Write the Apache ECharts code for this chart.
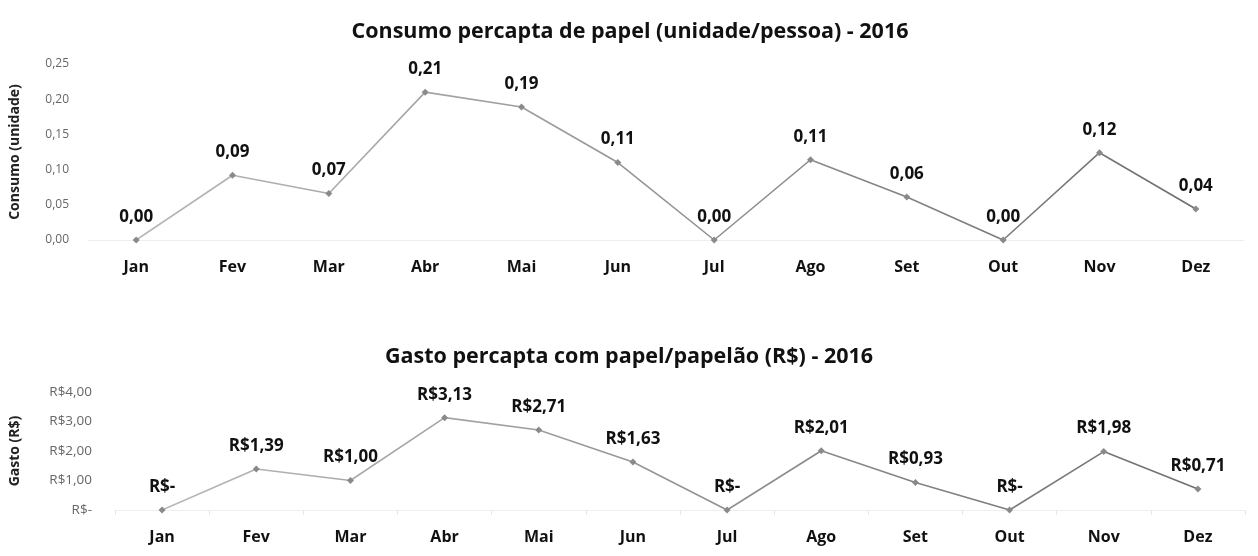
<!DOCTYPE html>
<html>
<head>
<meta charset="utf-8">
<script src="https://cdn.jsdelivr.net/npm/echarts@6/dist/echarts.min.js"></script>
<style>
  html, body { margin: 0; padding: 0; background: #fff; }
  #chart { width: 1258px; height: 556px; }
</style>
</head>
<body>
<div id="chart"></div>
<script>
var meses = ["Jan", "Fev", "Mar", "Abr", "Mai", "Jun", "Jul", "Ago", "Set", "Out", "Nov", "Dez"];
var consumo = [0, 0.092, 0.066, 0.21, 0.189, 0.11, 0, 0.114, 0.061, 0, 0.124, 0.044];
var gasto = [0, 1.39, 1.0, 3.13, 2.71, 1.63, 0, 2.01, 0.93, 0, 1.98, 0.71];

var fonte = "'Open Sans', sans-serif";

function virgula(v) {
  return v.toFixed(2).replace(".", ",");
}
function reais(v) {
  if (v === 0) return "R$-";
  return "R$" + virgula(v);
}

// cinza que escurece da esquerda pra direita (como no scan)
var corLinha = new echarts.graphic.LinearGradient(0, 0, 1, 0, [
  { offset: 0, color: "#b8b8b8" },
  { offset: 1, color: "#6f6f6f" }
]);

function eixoX(idx) {
  return {
    type: "category",
    gridIndex: idx,
    data: meses,
    axisLine: { show: true, lineStyle: { color: "#eeeeee" } },
    axisTick: { show: idx === 1, lineStyle: { color: "#e6e6e6" } },
    axisLabel: { margin: 19, color: "#111", fontSize: 16, fontWeight: "bold", fontFamily: fonte }
  };
}

var chart = echarts.init(document.getElementById("chart"), null, { renderer: "canvas" });
chart.setOption({
  animation: false,
  backgroundColor: "#fff",
  title: [
    {
      text: "Consumo percapta de papel (unidade/pessoa) - 2016",
      left: 625, top: 16, textAlign: "center",
      textStyle: { fontSize: 21.5, fontWeight: "bold", color: "#111", fontFamily: fonte }
    },
    {
      text: "Gasto percapta com papel/papelão (R$) - 2016",
      left: 624, top: 341, textAlign: "center",
      textStyle: { fontSize: 21.5, fontWeight: "bold", color: "#111", fontFamily: fonte }
    }
  ],
  grid: [
    { left: 84, right: 14, top: 64, height: 176 },
    { left: 113, right: 13, top: 392, height: 118 }
  ],
  xAxis: [eixoX(0), eixoX(1)],
  yAxis: [
    {
      type: "value", gridIndex: 0, min: 0, max: 0.25, interval: 0.05,
      name: "Consumo (unidade)", nameLocation: "middle", nameGap: 66,
      nameTextStyle: { fontSize: 14, fontWeight: "bold", color: "#222", fontFamily: fonte },
      axisLine: { show: false }, axisTick: { show: false },
      splitLine: { show: false },
      axisLabel: { margin: 19, color: "#666", fontSize: 12, fontFamily: fonte, formatter: virgula }
    },
    {
      type: "value", gridIndex: 1, min: 0, max: 4, interval: 1,
      name: "Gasto (R$)", nameLocation: "middle", nameGap: 93,
      nameTextStyle: { fontSize: 14, fontWeight: "bold", color: "#222", fontFamily: fonte },
      axisLine: { show: false }, axisTick: { show: false },
      splitLine: { show: false },
      axisLabel: { margin: 23, color: "#666", fontSize: 13.5, fontFamily: fonte, formatter: reais }
    }
  ],
  series: [
    {
      type: "line", xAxisIndex: 0, yAxisIndex: 0, data: consumo,
      symbol: "diamond", symbolSize: 7,
      lineStyle: { color: corLinha, width: 1.6 },
      itemStyle: { color: "#8a8a8a" },
      label: {
        show: true, position: "top", distance: 11,
        fontSize: 17, fontWeight: "bold", color: "#111", fontFamily: fonte,
        formatter: function (p) { return virgula(p.value); }
      }
    },
    {
      type: "line", xAxisIndex: 1, yAxisIndex: 1, data: gasto,
      symbol: "diamond", symbolSize: 7,
      lineStyle: { color: corLinha, width: 1.6 },
      itemStyle: { color: "#8a8a8a" },
      label: {
        show: true, position: "top", distance: 11,
        fontSize: 17, fontWeight: "bold", color: "#111", fontFamily: fonte,
        formatter: function (p) { return reais(p.value); }
      }
    }
  ]
});
</script>
</body>
</html>
